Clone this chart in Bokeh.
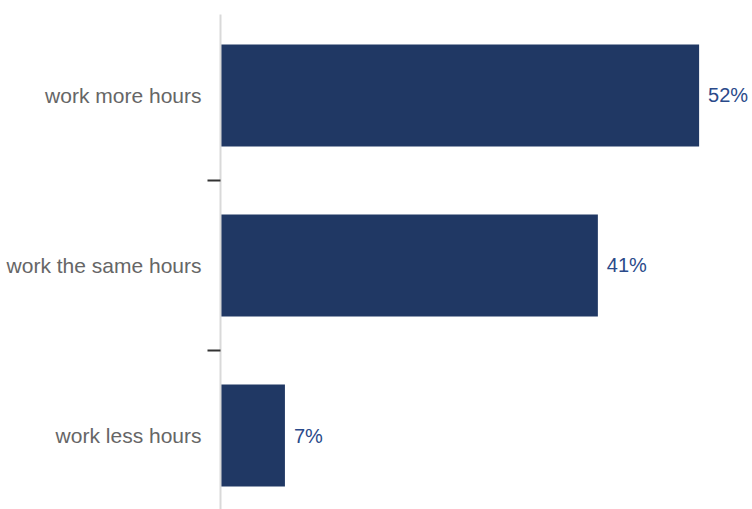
from bokeh.plotting import figure
from bokeh.models import FixedTicker, LabelSet, ColumnDataSource, Range1d
from bokeh.core.properties import value
from bokeh.embed import file_html
from bokeh.resources import INLINE

categories = ["work more hours", "work the same hours", "work less hours"]
values = [52, 41, 7]
value_labels = ["52%", "41%", "7%"]

ys = list(range(len(categories)))
bounds = [i + 0.5 for i in ys[:-1]]

src = ColumnDataSource(dict(y=ys, v=values, lab=value_labels))

p = figure(width=752, height=509, x_range=Range1d(0, 57.8), y_range=Range1d(2.435, -0.476),
           output_backend="svg", toolbar_location=None,
           min_border_left=220, min_border_right=0, min_border_top=14, min_border_bottom=0)
p.hbar(y="y", right="v", left=0, height=0.6, source=src, fill_color="#203864", line_color=None)

p.add_layout(LabelSet(x="v", y="y", text="lab", source=src, x_offset=9,
                      text_baseline="middle", text_align="left",
                      text_font=value("Liberation Sans"), text_font_size="20px",
                      text_color="#2a4a8a"))

p.xaxis.visible = False
p.xgrid.grid_line_color = None
p.ygrid.grid_line_color = None
p.outline_line_color = None
p.background_fill_color = "white"
p.border_fill_color = "white"

ax = p.yaxis[0]
ax.ticker = FixedTicker(ticks=ys, minor_ticks=bounds)
ax.major_label_overrides = {y: c for y, c in zip(ys, categories)}
ax.major_tick_line_color = None
ax.major_tick_out = 0
ax.major_tick_in = 0
ax.minor_tick_out = 13
ax.minor_tick_in = 0
ax.minor_tick_line_color = "#333333"
ax.minor_tick_line_width = 2
ax.axis_line_color = "#d9d9d9"
ax.axis_line_width = 2
ax.major_label_standoff = 6
ax.major_label_text_font = "Liberation Sans"
ax.major_label_text_font_size = "21px"
ax.major_label_text_color = "#666666"

open("out.html", "w").write(file_html(p, INLINE))
